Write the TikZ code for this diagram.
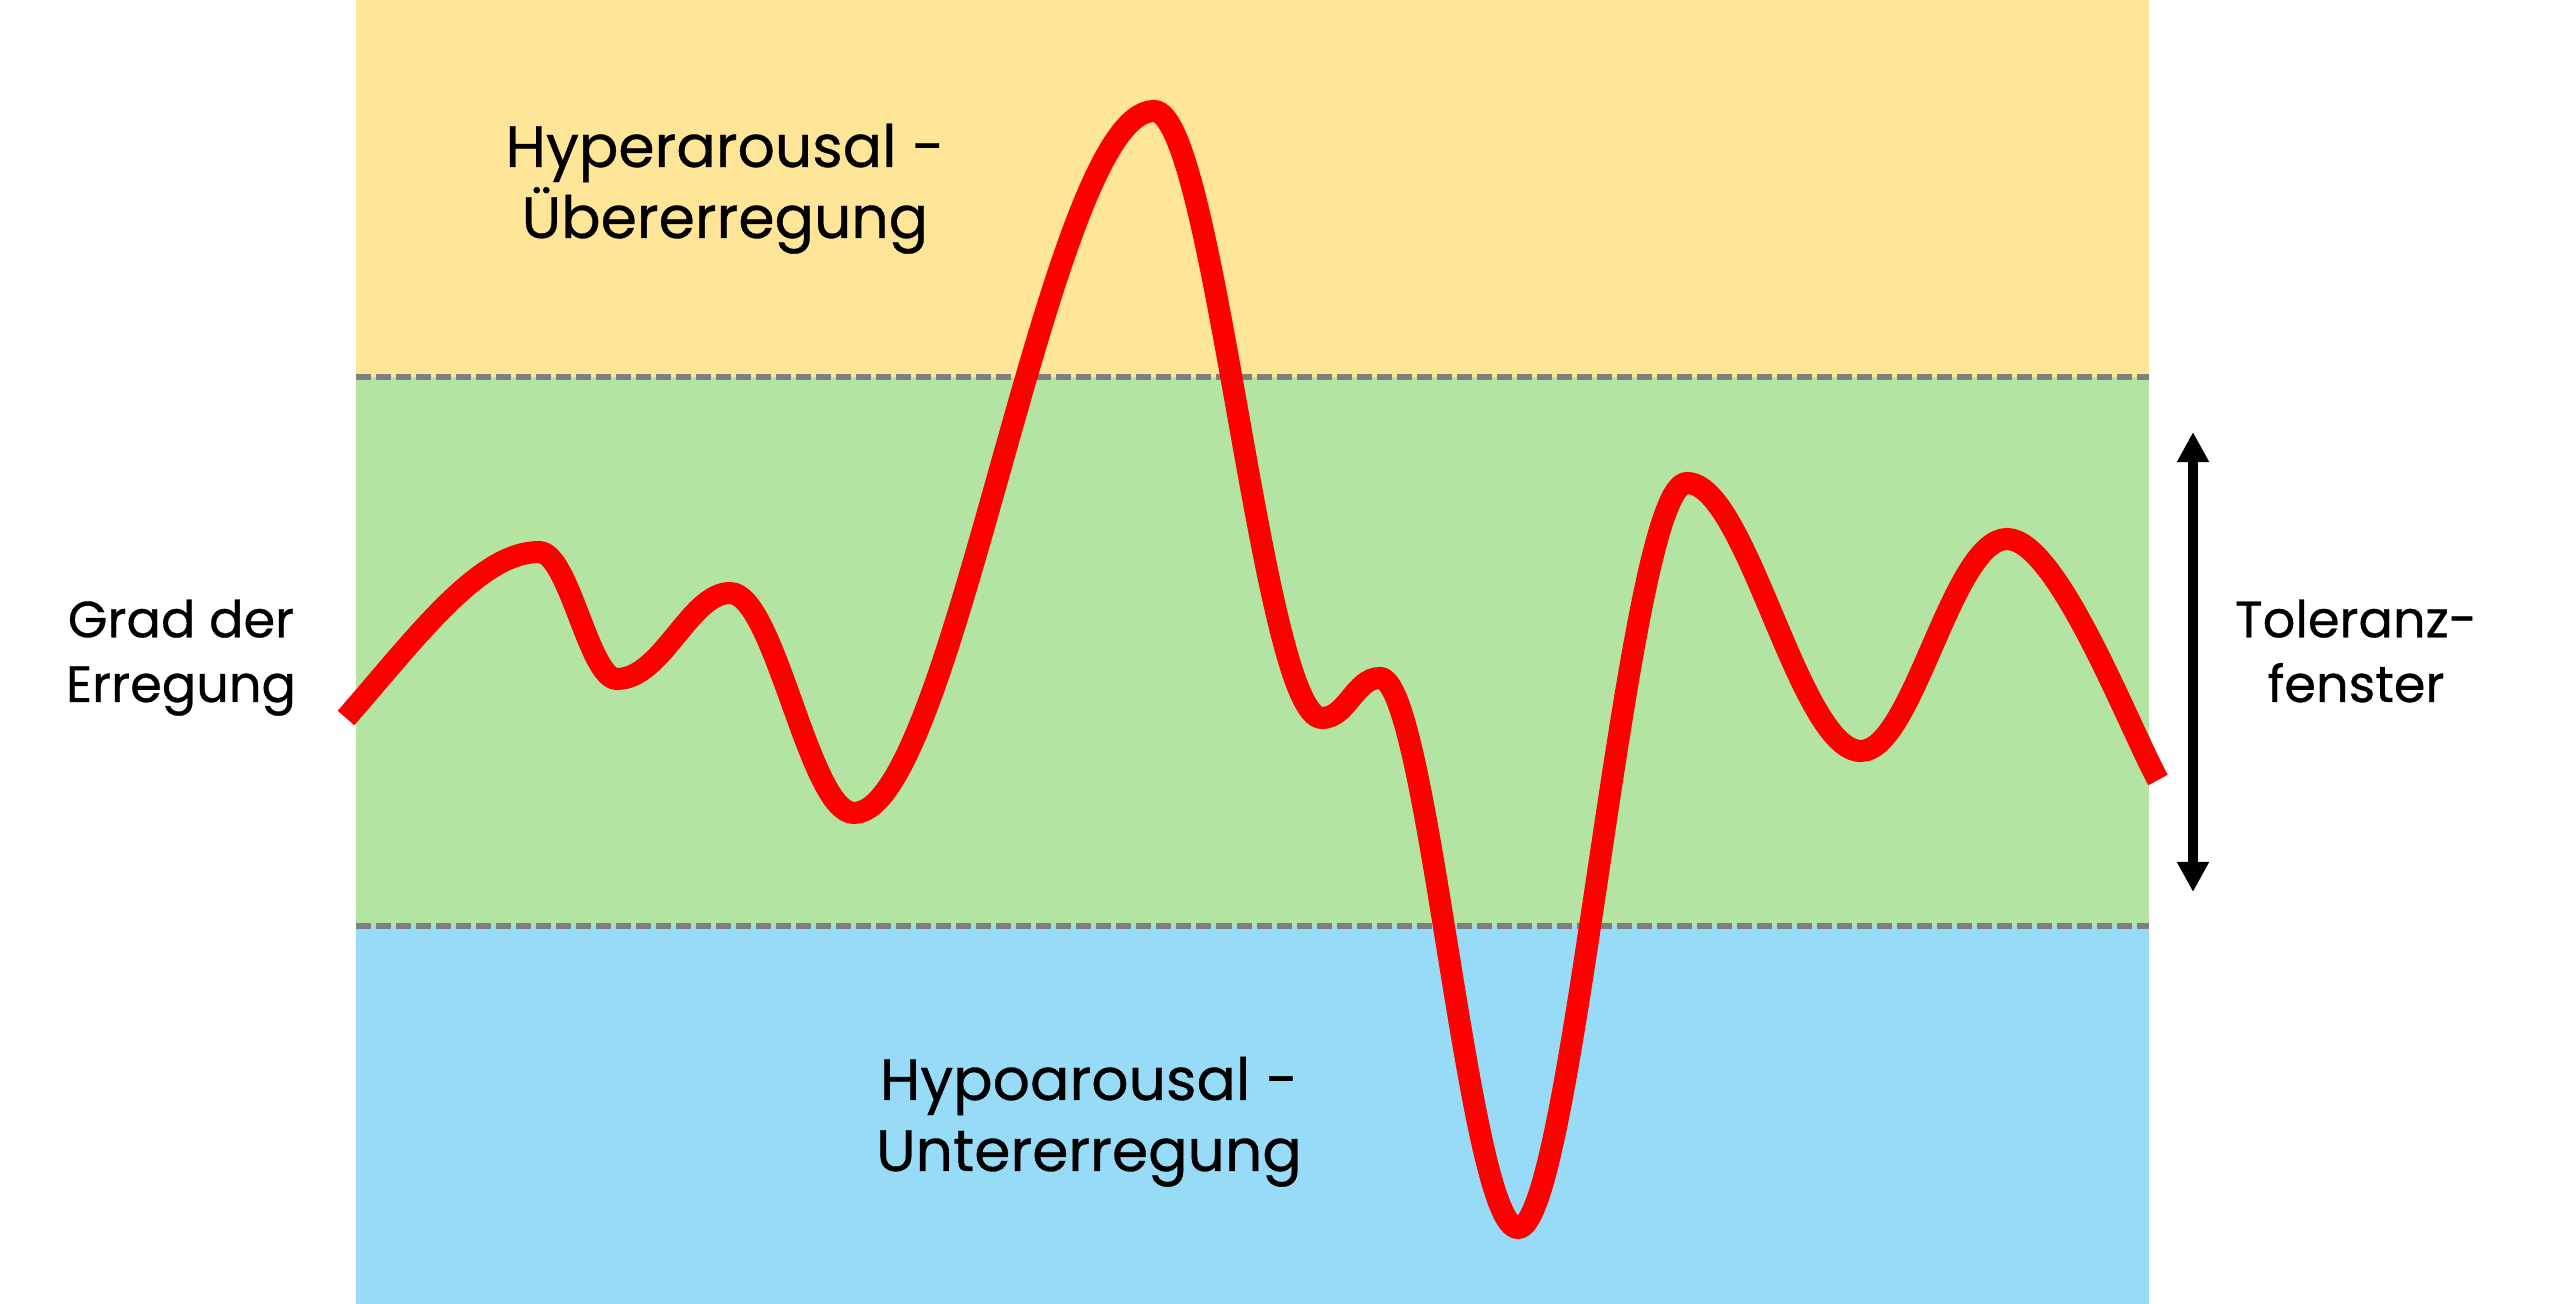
\documentclass[tikz,border=0pt]{standalone}
\usepackage{fontspec}
\setmainfont{Poppins}[UprightFeatures={FakeBold=0.6}]
\usetikzlibrary{arrows.meta,positioning}
\definecolor{hyper}{HTML}{FFE597}
\definecolor{calm}{HTML}{B3E4A2}
\definecolor{hypo}{HTML}{97DBF7}
\definecolor{dashgray}{HTML}{7F7F7F}
\definecolor{arousal}{HTML}{FF0000}
\tikzset{
  border/.style={draw=dashgray, line width=1.6pt, dash pattern=on 0.15cm off 0.05cm},
  zonelbl/.style={font=\fontsize{16.6}{20.2}\selectfont, align=center, anchor=base},
  sidelbl/.style={font=\fontsize{14.5}{18.4}\selectfont, align=center, anchor=base},
  wave/.style={draw=arousal, line width=0.22cm},
  span/.style={{Triangle[length=3mm,width=3mm]}-{Triangle[length=3mm,width=3mm]}, line width=0.1cm}
}
\begin{document}
\begin{tikzpicture}[x=0.01cm, y=-0.01cm]
  \useasboundingbox (0,0) rectangle (2560,1304);
  \fill[white] (0,0) rectangle (2560,1304);
  % zones
  \fill[hyper] (356,0) rectangle (2149,377);
  \fill[calm] (356,377) rectangle (2149,926);
  \fill[hypo] (356,926) rectangle (2149,1304);
  \draw[border] (356,377) -- (2149,377);
  \draw[border] (356,926) -- (2149,926);
  % arousal curve
  \draw[wave] (346,718)
    .. controls +(70,-80) and +(-60,0) .. (539,552)
    .. controls +(30,0) and +(-28,0) .. (617,679)
    .. controls +(45,0) and +(-40,0) .. (730,593)
    .. controls +(45,0) and +(-45,0) .. (854,813)
    .. controls +(100,0) and +(-105,0) .. (1154,111)
    .. controls +(60,0) and +(-60,0) .. (1322,718)
    .. controls +(25,0) and +(-25,0) .. (1380,678)
    .. controls +(48,0) and +(-50,0) .. (1518,1228)
    .. controls +(55,0) and +(-60,0) .. (1687,483)
    .. controls +(60,0) and +(-62,0) .. (1861,751)
    .. controls +(52,0) and +(-55,0) .. (2007,539)
    .. controls +(50,0) and +(-30,-55) .. (2158,780);
  % labels
  \node[zonelbl] (hyperlbl) at (725,238) {Hyperarousal -\\Übererregung};
  \node[zonelbl] (hypolbl) at (1089,1171) {Hypoarousal -\\Untererregung};
  \node[sidelbl] (gradlbl) at (181,702) {Grad der\\Erregung};
  \node[sidelbl] (fensterlbl) at (2356,702) {Toleranz-\\fenster};
  % window arrow
  \coordinate (wtop) at (2193,432);
  \coordinate (wbot) at (2193,892);
  \draw[span] (wtop) -- (wbot);
\end{tikzpicture}
\end{document}
